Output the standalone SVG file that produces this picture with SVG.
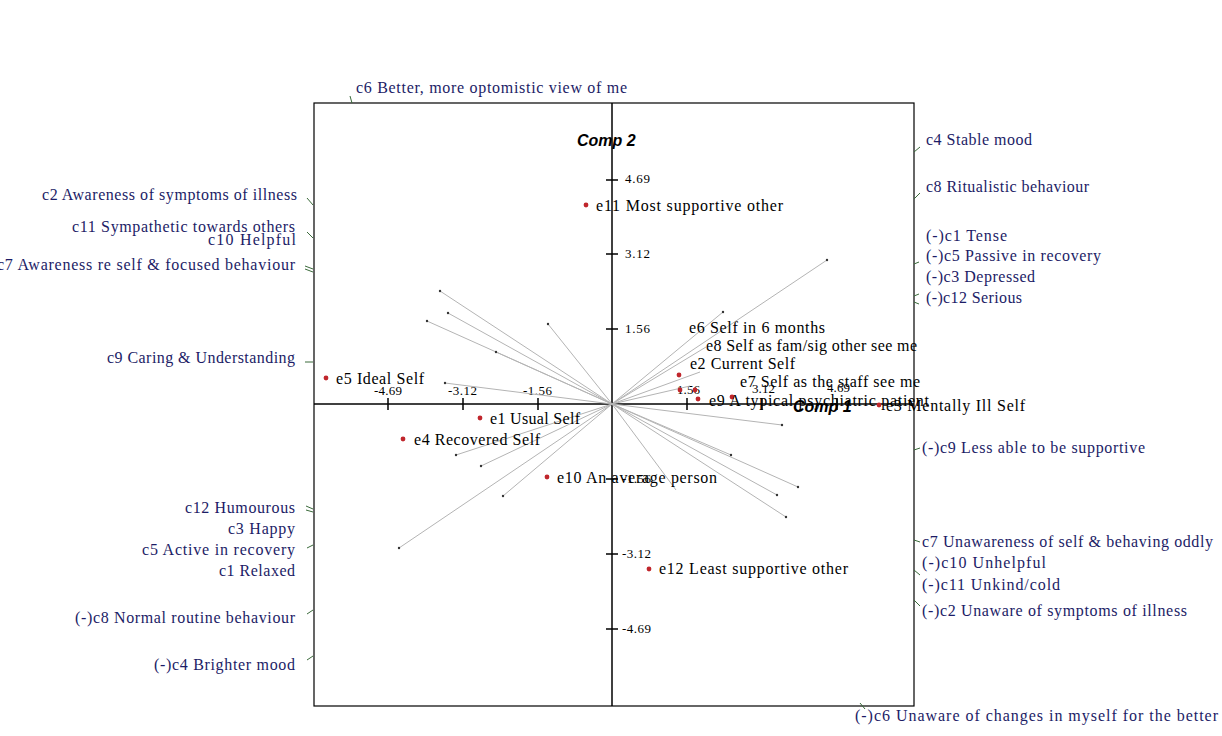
<svg xmlns="http://www.w3.org/2000/svg" width="1222" height="736" viewBox="0 0 1222 736">
<style>
.c{font-family:"Liberation Serif","Times New Roman",serif;font-size:16px;fill:#1c1c66}
.e{font-family:"Liberation Serif","Times New Roman",serif;font-size:16px;fill:#000}
.t{font-family:"Liberation Serif","Times New Roman",serif;font-size:13px;fill:#000}
.comp{font-family:"Liberation Sans",Arial,sans-serif;font-size:16px;font-weight:bold;font-style:italic;fill:#000}
.ray{stroke:#b4b4b4;stroke-width:1;fill:none}
.end{fill:#333}
.dot{fill:#c0262c}
.lk{stroke:#3a6a3a;stroke-width:1;fill:none}
.ax{stroke:#000;stroke-width:1.5;fill:none}
</style>
<rect width="1222" height="736" fill="#fff"/>
<g id="frame">
<rect x="314" y="103" width="600" height="603" fill="none" stroke="#000" stroke-width="1.2"/>
<line class="ax" x1="612" y1="103" x2="612" y2="706"/>
<line class="ax" x1="314" y1="404" x2="914" y2="404"/>
<path class="ax" d="M388 398V410M463 398V410M538 398V410M687 398V410M762 398V410M837 398V410M606 180H618M606 254H618M606 329H618M606 479H618M606 554H618M606 629H618"/>
<text class="t" x="374" y="395" textLength="28">-4.69</text>
<text class="t" x="448" y="395" textLength="29">-3.12</text>
<text class="t" x="523" y="395" textLength="29">-1.56</text>
<text class="t" x="677" y="394" textLength="23">1.56</text>
<text class="t" x="752" y="393" textLength="23">3.12</text>
<text class="t" x="827" y="392" textLength="23">4.69</text>
<text class="t" x="625" y="183" textLength="25">4.69</text>
<text class="t" x="625" y="258" textLength="25">3.12</text>
<text class="t" x="625" y="333" textLength="25">1.56</text>
<text class="t" x="622" y="483" textLength="29">-1.56</text>
<text class="t" x="622" y="558" textLength="29">-3.12</text>
<text class="t" x="622" y="633" textLength="29">-4.69</text>
<text class="comp" x="577" y="146">Comp 2</text>
<text class="comp" x="793" y="412">Comp 1</text>
</g>
<g id="connectors">
<path class="ray" d="M612 404L440 291M612 404L448 313M612 404L427 321M612 404L496 352M612 404L548 324M612 404L445 383M612 404L456 455M612 404L481 466M612 404L503 496M612 404L399 548M612 404L827 260M612 404L723 312M612 404L706 347M612 404L700 372M612 404L690 386M612 404L782 425M612 404L731 455M612 404L798 487M612 404L777 495M612 404L786 517M612 404L676 490"/>
<g class="end">
<circle cx="440" cy="291" r="1.2"/><circle cx="448" cy="313" r="1.2"/><circle cx="427" cy="321" r="1.2"/><circle cx="496" cy="352" r="1.2"/><circle cx="548" cy="324" r="1.2"/><circle cx="445" cy="383" r="1.2"/><circle cx="456" cy="455" r="1.2"/><circle cx="481" cy="466" r="1.2"/><circle cx="503" cy="496" r="1.2"/><circle cx="399" cy="548" r="1.2"/><circle cx="827" cy="260" r="1.2"/><circle cx="723" cy="312" r="1.2"/><circle cx="782" cy="425" r="1.2"/><circle cx="731" cy="455" r="1.2"/><circle cx="798" cy="487" r="1.2"/><circle cx="777" cy="495" r="1.2"/><circle cx="786" cy="517" r="1.2"/>
</g>
<path class="lk" d="M307 198L313 205M307 232L313 238M305 266L313 269M305 269L313 272M305 362L313 362M306 506L313 509M306 510L313 512M307 548L313 545M307 614L313 610M307 660L313 656M350 96L352 103M914 152L920 147M914 199L920 193M914 264L919 262M914 296L919 294M914 302L919 304M914 450L920 448M914 540L920 542M914 570L920 575M914 600L920 606M860 703L865 709"/>
</g>
<g id="elements">
<g id="e11"><circle class="dot" cx="586" cy="205" r="2.4"/><text class="e" x="596" y="211" textLength="187">e11 Most supportive other</text></g>
<g id="e5"><circle class="dot" cx="326" cy="378" r="2.4"/><text class="e" x="336" y="384" textLength="88">e5 Ideal Self</text></g>
<g id="e1"><circle class="dot" cx="480" cy="418" r="2.4"/><text class="e" x="490" y="424" textLength="90">e1 Usual Self</text></g>
<g id="e4"><circle class="dot" cx="403" cy="439" r="2.4"/><text class="e" x="414" y="445" textLength="126">e4 Recovered Self</text></g>
<g id="e10"><circle class="dot" cx="547" cy="477" r="2.4"/><text class="e" x="557" y="483" textLength="160">e10 An average person</text></g>
<g id="e12"><circle class="dot" cx="649" cy="569" r="2.4"/><text class="e" x="659" y="574" textLength="189">e12 Least supportive other</text></g>
<g id="e6"><circle class="dot" cx="679" cy="375" r="2.4"/><text class="e" x="689" y="333" textLength="136">e6 Self in 6 months</text></g>
<g id="e8"><circle class="dot" cx="680" cy="390" r="2.4"/><text class="e" x="706" y="351" textLength="211">e8 Self as fam/sig other see me</text></g>
<g id="e2"><circle class="dot" cx="695" cy="390" r="2.4"/><text class="e" x="690" y="369" textLength="105">e2 Current Self</text></g>
<g id="e7"><circle class="dot" cx="732" cy="397" r="2.4"/><text class="e" x="740" y="387" textLength="180">e7 Self as the staff see me</text></g>
<g id="e9"><circle class="dot" cx="698" cy="399" r="2.4"/><text class="e" x="709" y="406" textLength="220">e9 A typical psychiatric patient</text></g>
<g id="e3"><circle class="dot" cx="879" cy="405" r="2.4"/><text class="e" x="886" y="411" textLength="139">e3 Mentally Ill Self</text></g>
</g>
<g id="constructs">
<text id="c6" class="c" x="356" y="93" textLength="271">c6 Better, more optomistic view of me</text>
<text id="c2" class="c" x="42" y="200" textLength="255">c2 Awareness of symptoms of illness</text>
<text id="c11" class="c" x="72" y="232" textLength="223">c11 Sympathetic towards others</text>
<text id="c10" class="c" x="208" y="245" textLength="88">c10 Helpful</text>
<text id="c7" class="c" x="-3" y="270" textLength="298">c7 Awareness re self &amp; focused behaviour</text>
<text id="c9" class="c" x="107" y="363" textLength="188">c9 Caring &amp; Understanding</text>
<text id="c12" class="c" x="185" y="513" textLength="110">c12 Humourous</text>
<text id="c3" class="c" x="228" y="534" textLength="67">c3 Happy</text>
<text id="c5" class="c" x="142" y="555" textLength="153">c5 Active in recovery</text>
<text id="c1" class="c" x="219" y="576" textLength="76">c1 Relaxed</text>
<text id="nc8" class="c" x="75" y="623" textLength="220">(-)c8 Normal routine behaviour</text>
<text id="nc4" class="c" x="154" y="670" textLength="141">(-)c4 Brighter mood</text>
<text id="c4" class="c" x="926" y="145" textLength="106">c4 Stable mood</text>
<text id="c8" class="c" x="926" y="192" textLength="163">c8 Ritualistic behaviour</text>
<text id="nc1" class="c" x="926" y="241" textLength="81">(-)c1 Tense</text>
<text id="nc5" class="c" x="926" y="261" textLength="175">(-)c5 Passive in recovery</text>
<text id="nc3" class="c" x="926" y="282" textLength="109">(-)c3 Depressed</text>
<text id="nc12" class="c" x="926" y="303" textLength="96">(-)c12 Serious</text>
<text id="nc9" class="c" x="922" y="453" textLength="223">(-)c9 Less able to be supportive</text>
<text id="c7r" class="c" x="922" y="547" textLength="291">c7 Unawareness of self &amp; behaving oddly</text>
<text id="nc10" class="c" x="922" y="568" textLength="124">(-)c10 Unhelpful</text>
<text id="nc11" class="c" x="922" y="590" textLength="138">(-)c11 Unkind/cold</text>
<text id="nc2" class="c" x="922" y="616" textLength="265">(-)c2 Unaware of symptoms of illness</text>
<text id="nc6" class="c" x="855" y="721" textLength="363">(-)c6 Unaware of changes in myself for the better</text>
</g>
</svg>
